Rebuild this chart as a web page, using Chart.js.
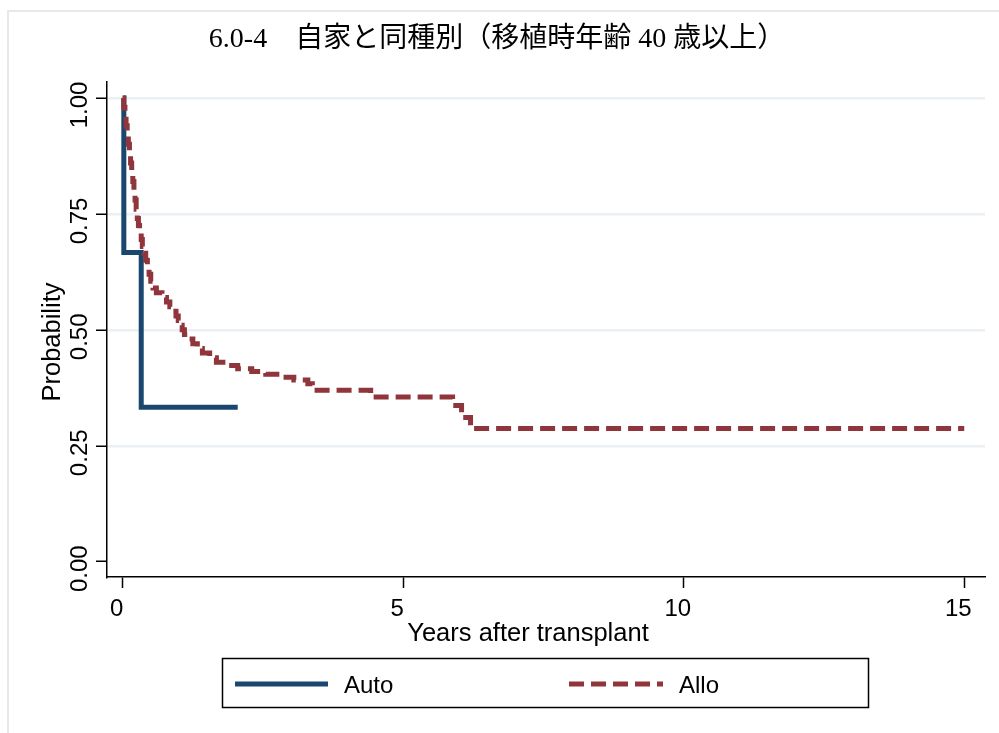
<!DOCTYPE html>
<html>
<head>
<meta charset="utf-8">
<script src="https://cdn.jsdelivr.net/npm/chart.js@4.4.1/dist/chart.umd.min.js"></script>
<style>
  html, body { margin: 0; background: #fff; }
  canvas { display: block; }
</style>
</head>
<body>
<canvas id="kmChart" width="999" height="733"></canvas>
<script>
// data (Kaplan-Meier, years after transplant)
const titleText = '6.0-4　自家と同種別（移植時年齢 40 歳以上）';
const seriesNames = ['Auto', 'Allo'];

const autoYears = [0, 0.02, 0.33, 2.05];
const autoSurv  = [1.0, 0.667, 0.333, 0.333];

const alloYears = [0, 0.02, 0.04, 0.06, 0.08, 0.10, 0.12, 0.14, 0.16, 0.18, 0.20, 0.22, 0.24, 0.26,
  0.28, 0.30, 0.33, 0.35, 0.38, 0.41, 0.44, 0.47, 0.50, 0.54, 0.60, 0.70, 0.78, 0.84, 0.90, 0.95,
  0.99, 1.02, 1.06, 1.10, 1.17, 1.25, 1.33, 1.42, 1.55, 1.67, 1.85, 2.05, 2.30, 2.55, 2.85, 3.05,
  3.30, 3.38, 4.42, 5.88, 6.04, 6.20, 15.0];
const alloSurv = [1.0, 0.98, 0.96, 0.94, 0.92, 0.90, 0.88, 0.86, 0.84, 0.82, 0.80, 0.78, 0.76, 0.74,
  0.725, 0.71, 0.695, 0.68, 0.665, 0.65, 0.635, 0.62, 0.605, 0.59, 0.58, 0.57, 0.56, 0.55, 0.54, 0.53,
  0.52, 0.51, 0.50, 0.49, 0.48, 0.47, 0.46, 0.45, 0.44, 0.43, 0.423, 0.416, 0.41, 0.404, 0.398, 0.392,
  0.384, 0.37, 0.355, 0.337, 0.311, 0.287, 0.287];

const xTickValues = [0, 5, 10, 15];
const yTickValues = [0, 0.25, 0.5, 0.75, 1];
const yTickLabels = ['0.00', '0.25', '0.50', '0.75', '1.00'];
const xTitle = 'Years after transplant';
const yTitle = 'Probability';

const sans = "'Liberation Sans', Arial, sans-serif";
const serif = "'Liberation Serif', 'Noto Sans CJK JP', serif";
const toPoints = (xs, ys) => xs.map((x, i) => ({ x: x, y: ys[i] }));

// frame, title, rotated y labels, axis titles and the boxed legend
const extras = {
  id: 'extras',
  beforeDraw(chart) {
    const ctx = chart.ctx;
    ctx.save();
    ctx.strokeStyle = '#e4e9ec';
    ctx.lineWidth = 2;
    ctx.strokeRect(8, 11, 1100, 900);
    ctx.restore();
  },
  afterDraw(chart) {
    const ctx = chart.ctx;
    const ys = chart.scales.y;
    ctx.save();
    ctx.fillStyle = '#000';
    ctx.textAlign = 'center';
    ctx.textBaseline = 'middle';
    ctx.font = '28px ' + serif;
    ctx.fillText(titleText, 497, 40);

    ctx.textBaseline = 'alphabetic';
    ctx.font = '24px ' + sans;
    yTickValues.forEach((v, i) => {
      const py = ys.getPixelForValue(v) + 7;
      ctx.save();
      ctx.translate(87, py);
      ctx.rotate(-Math.PI / 2);
      ctx.fillText(yTickLabels[i], 0, 0);
      ctx.restore();
    });

    ctx.font = '25.5px ' + sans;
    ctx.save();
    ctx.translate(60, 342);
    ctx.rotate(-Math.PI / 2);
    ctx.fillText(yTitle, 0, 0);
    ctx.restore();
    ctx.fillText(xTitle, 528, 641);

    // legend
    ctx.strokeStyle = '#000';
    ctx.lineWidth = 1.5;
    ctx.strokeRect(222.5, 658.5, 646, 49);
    const slots = [{ x0: 235, x1: 328, tx: 344 }, { x0: 569, x1: 663, tx: 679 }];
    chart.data.datasets.forEach((ds, i) => {
      const s = slots[i];
      ctx.save();
      ctx.strokeStyle = ds.borderColor;
      ctx.lineWidth = ds.borderWidth;
      ctx.setLineDash(ds.borderDash || []);
      ctx.beginPath();
      ctx.moveTo(s.x0, 684);
      ctx.lineTo(s.x1, 684);
      ctx.stroke();
      ctx.restore();
      ctx.font = '24px ' + sans;
      ctx.textAlign = 'left';
      ctx.textBaseline = 'middle';
      ctx.fillText(ds.label, s.tx, 686);
    });
    ctx.restore();
  }
};

new Chart(document.getElementById('kmChart'), {
  type: 'line',
  data: {
    datasets: [{
      label: seriesNames[0],
      data: toPoints(autoYears, autoSurv),
      borderColor: '#1a476f',
      borderWidth: 5,
      stepped: true,
      pointRadius: 0,
      order: 1
    }, {
      label: seriesNames[1],
      data: toPoints(alloYears, alloSurv),
      borderColor: '#90353b',
      borderWidth: 5,
      borderDash: [15, 7],
      stepped: true,
      pointRadius: 0,
      order: 0
    }]
  },
  options: {
    responsive: false,
    animation: false,
    layout: { padding: { left: 0, right: 14, top: 82, bottom: 96 } },
    plugins: {
      legend: { display: false },
      tooltip: { enabled: false },
      title: { display: false }
    },
    scales: {
      x: {
        type: 'linear',
        min: -0.28,
        max: 15.37,
        afterBuildTicks: s => { s.ticks = xTickValues.map(v => ({ value: v })); },
        afterFit: s => { s.height = 60; },
        border: { display: true, color: '#000', width: 1.5 },
        grid: { drawOnChartArea: false, drawTicks: true, tickLength: 11, tickColor: '#000', tickWidth: 1.5 },
        ticks: { color: '#000', font: { family: sans, size: 24 }, padding: 7, labelOffset: -6, maxRotation: 0 }
      },
      y: {
        type: 'linear',
        min: -0.033,
        max: 1.0345,
        afterBuildTicks: s => { s.ticks = yTickValues.map(v => ({ value: v })); },
        afterFit: s => { s.width = 107; },
        border: { display: true, color: '#000', width: 1.5 },
        grid: {
          color: c => (c.tick && c.tick.value === 0 ? 'rgba(0,0,0,0)' : '#eaf0f3'),
          lineWidth: 2.5,
          drawTicks: true,
          tickLength: 11,
          tickColor: '#000',
          tickWidth: 1.5
        },
        ticks: { display: false }
      }
    }
  },
  plugins: [extras]
});
</script>
</body>
</html>
